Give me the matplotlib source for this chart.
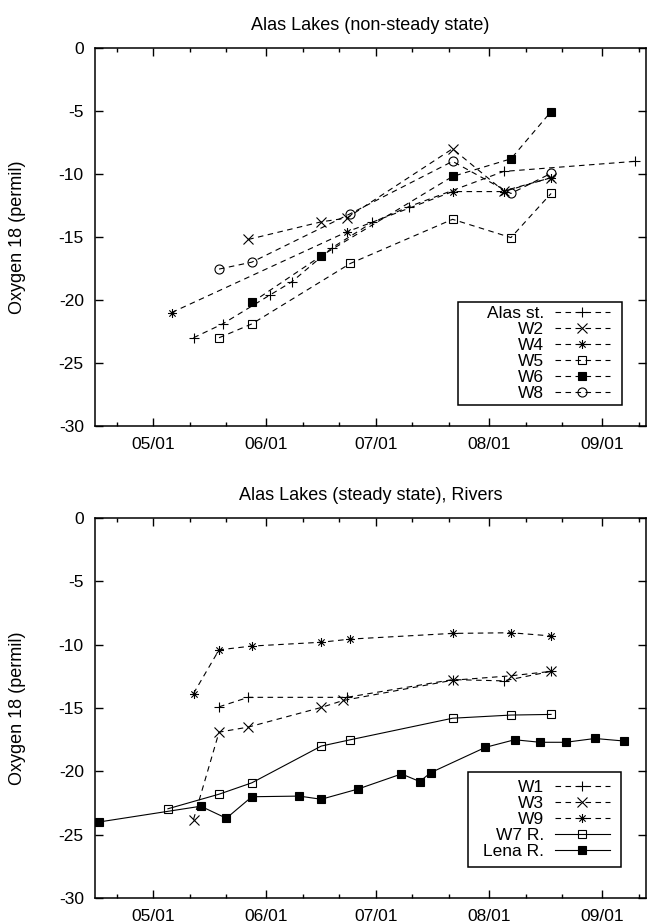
import datetime as dt
import matplotlib
matplotlib.use('Agg')
import matplotlib.pyplot as plt
import matplotlib.dates as mdates
from matplotlib.path import Path
from matplotlib.patches import Rectangle

plt.rcParams['font.family'] = ['Liberation Sans', 'DejaVu Sans']
plt.rcParams['font.size'] = 12
plt.rcParams['axes.unicode_minus'] = False

YEAR = 2000


def days(*md):
    return [dt.datetime(YEAR, m, d) for m, d in md]


# --- Alas lakes, non-steady state ---
alas_t = days((5, 12), (5, 20), (6, 2), (6, 8), (6, 19), (6, 30), (7, 10), (8, 5), (9, 10))
alas_v = [-23.0, -21.9, -19.6, -18.55, -15.85, -13.85, -12.6, -9.8, -9.0]
w2_t = days((5, 27), (6, 16), (6, 23), (7, 22), (8, 5), (8, 18))
w2_v = [-15.2, -13.8, -13.5, -8.0, -11.35, -10.3]
w4_t = days((5, 6), (6, 23), (7, 22), (8, 5), (8, 18))
w4_v = [-21.0, -14.6, -11.4, -11.4, -10.3]
w5_t = days((5, 19), (5, 28), (6, 24), (7, 22), (8, 7), (8, 18))
w5_v = [-23.0, -21.9, -17.1, -13.6, -15.05, -11.55]
w6_t = days((5, 28), (6, 16), (7, 22), (8, 7), (8, 18))
w6_v = [-20.2, -16.5, -10.2, -8.8, -5.05]
w8_t = days((5, 19), (5, 28), (6, 24), (7, 22), (8, 7), (8, 18))
w8_v = [-17.55, -17.0, -13.15, -9.0, -11.55, -9.95]

# --- Alas lakes, steady state, and rivers ---
w1_t = days((5, 19), (5, 27), (6, 23), (7, 22), (8, 5), (8, 18))
w1_v = [-14.9, -14.15, -14.15, -12.75, -12.85, -12.1]
w3_t = days((5, 12), (5, 19), (5, 27), (6, 16), (6, 22), (7, 22), (8, 7), (8, 18))
w3_v = [-23.8, -16.9, -16.5, -14.95, -14.4, -12.8, -12.45, -12.1]
w9_t = days((5, 12), (5, 19), (5, 28), (6, 16), (6, 24), (7, 22), (8, 7), (8, 18))
w9_v = [-13.85, -10.4, -10.1, -9.8, -9.55, -9.1, -9.05, -9.3]
w7_t = days((5, 5), (5, 19), (5, 28), (6, 16), (6, 24), (7, 22), (8, 7), (8, 18))
w7_v = [-22.95, -21.8, -20.9, -18.0, -17.5, -15.8, -15.55, -15.5]
lena_t = days((4, 16), (5, 14), (5, 21), (5, 28), (6, 10), (6, 16), (6, 26), (7, 8),
              (7, 13), (7, 16), (7, 31), (8, 8), (8, 15), (8, 22), (8, 30), (9, 7))
lena_v = [-24.0, -22.75, -23.7, -22.0, -21.95, -22.2, -21.4, -20.2,
          -20.8, -20.1, -18.1, -17.5, -17.7, -17.7, -17.4, -17.6]

# gnuplot-style asterisk: "+" and "x" on top of each other
star = Path([(-1, 0), (1, 0), (0, -1), (0, 1),
             (-0.7, -0.7), (0.7, 0.7), (-0.7, 0.7), (0.7, -0.7)],
            [Path.MOVETO, Path.LINETO] * 4)

dash = (0, (5, 4))
lw = 0.8
styles = {
    'plus': dict(marker='+', ms=7.5, mew=lw),
    'x': dict(marker='x', ms=6.5, mew=lw),
    'star': dict(marker=star, ms=6.5, mew=lw),
    'osq': dict(marker='s', ms=6, mew=lw, mfc='none'),
    'fsq': dict(marker='s', ms=6, mew=lw, mfc='black'),
    'oci': dict(marker='o', ms=6.5, mew=lw, mfc='none'),
}

fig = plt.figure(figsize=(6.47, 9.22), dpi=100)
ax1 = fig.add_axes([0.1468, 0.538, 0.8516, 0.410])
ax2 = fig.add_axes([0.1468, 0.026, 0.8516, 0.412])


def series(ax, t, v, label, mk, ls):
    ax.plot(t, v, color='black', lw=lw, ls=ls, label=label, **styles[mk])


series(ax1, alas_t, alas_v, 'Alas st.', 'plus', dash)
series(ax1, w2_t, w2_v, 'W2', 'x', dash)
series(ax1, w4_t, w4_v, 'W4', 'star', dash)
series(ax1, w5_t, w5_v, 'W5', 'osq', dash)
series(ax1, w6_t, w6_v, 'W6', 'fsq', dash)
series(ax1, w8_t, w8_v, 'W8', 'oci', dash)

series(ax2, w1_t, w1_v, 'W1', 'plus', dash)
series(ax2, w3_t, w3_v, 'W3', 'x', dash)
series(ax2, w9_t, w9_v, 'W9', 'star', dash)
series(ax2, w7_t, w7_v, 'W7 R.', 'osq', '-')
series(ax2, lena_t, lena_v, 'Lena R.', 'fsq', '-')

titles = ['Alas Lakes (non-steady state)', 'Alas Lakes (steady state), Rivers']
# key boxes in axes fraction: (x0, y0, width, height)
key_boxes = [(0.659, 0.056, 0.298, 0.272), (0.677, 0.082, 0.278, 0.250)]
for ax, title, box in zip((ax1, ax2), titles, key_boxes):
    ax.set_xlim(dt.datetime(YEAR, 4, 15), dt.datetime(YEAR, 9, 13))
    ax.set_ylim(-30, 0)
    ax.set_yticks([0, -5, -10, -15, -20, -25, -30])
    ax.xaxis.set_major_locator(mdates.MonthLocator())
    ax.xaxis.set_minor_locator(mdates.DayLocator(bymonthday=[11, 21]))
    ax.xaxis.set_major_formatter(mdates.DateFormatter('%m/%d'))
    ax.tick_params(which='both', direction='in', top=True, right=True, width=1.0)
    ax.tick_params(which='major', length=6, pad=8, labelsize=12.5)
    ax.tick_params(which='minor', length=3)
    for s in ax.spines.values():
        s.set_linewidth(1.1)
    ax.set_title(title, fontsize=13, pad=13)
    ax.set_ylabel('Oxygen 18 (permil)', fontsize=13)
    ax.yaxis.set_label_coords(-0.125, 0.5)

    x0, y0, w, h = box
    ax.add_patch(Rectangle((x0, y0), w, h, transform=ax.transAxes,
                           facecolor='white', edgecolor='black', lw=1.1, zorder=4))
    leg = ax.legend(loc='center right', bbox_to_anchor=(0.935, y0 + h / 2),
                    borderaxespad=0, borderpad=0, frameon=False,
                    markerfirst=False, numpoints=1, handlelength=3.2,
                    handletextpad=0.6, labelspacing=0.05, fontsize=12.5)
    leg.set_zorder(5)
    for txt in leg.get_texts():
        txt.set_ha('right')

fig.savefig('out.png', dpi=100)
